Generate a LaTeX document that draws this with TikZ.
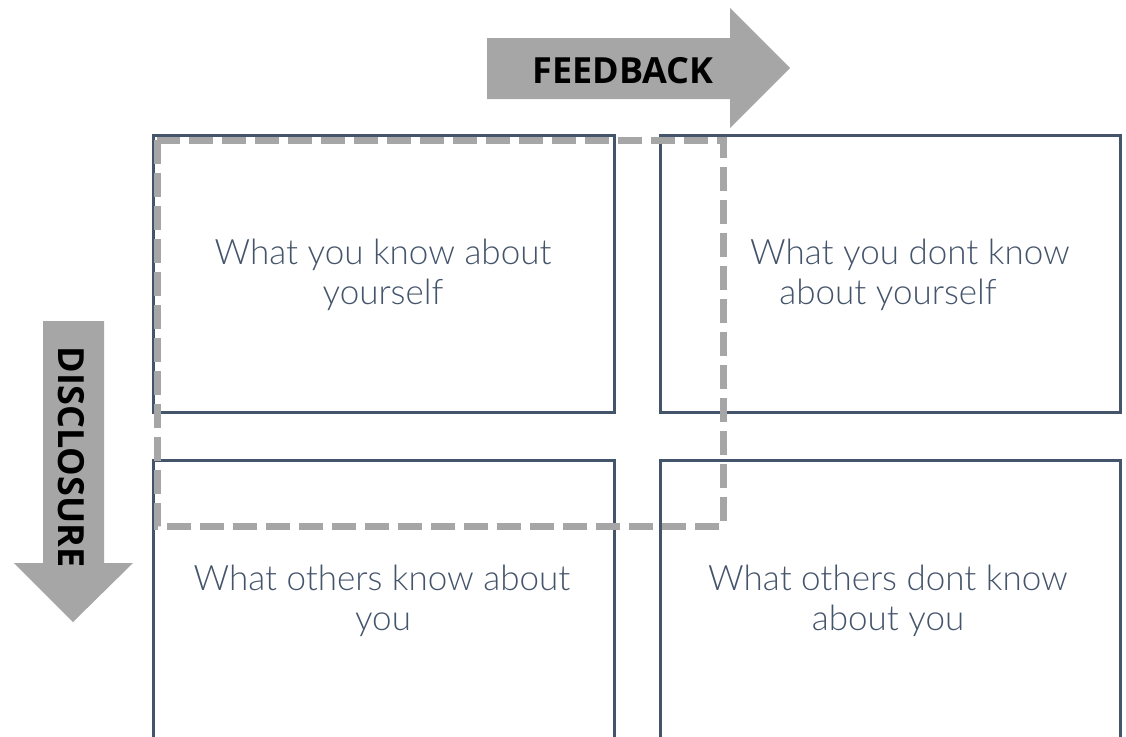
\documentclass[tikz,border=0pt]{standalone}
\usepackage{fontspec}
\newfontfamily\bodyfont{Lato Light}
\newfontfamily\headfont{Open Sans}
\definecolor{slate}{HTML}{44546A}
\definecolor{arrowgrey}{HTML}{A6A6A6}
\tikzset{
  quad/.style={draw=slate, line width=3pt},
  dashframe/.style={draw=arrowgrey, line width=7pt, dash pattern=on 24pt off 9pt},
  bigarrow/.style={fill=arrowgrey, draw=none},
  qtext/.style={text=slate, font=\bodyfont\fontsize{35}{40}\selectfont, inner sep=0pt, anchor=base},
  atext/.style={text=black, font=\headfont\bfseries\fontsize{36}{40}\selectfont, inner sep=0pt}
}
\begin{document}
\begin{tikzpicture}[x=1pt,y=-1pt]
\useasboundingbox (0,0) rectangle (1126,736);
% quadrant boxes
\draw[quad] (153,135) rectangle (614,412);
\draw[quad] (660,135) rectangle (1120,412);
\draw[quad] (153,460) rectangle (614,780);
\draw[quad] (660,460) rectangle (1120,780);
% texts
\node[qtext] (tl1) at (383,264) {What you know about};
\node[qtext] (tl2) at (383,304) {yourself};
\node[qtext] (tr1) at (910,264) {What you dont know};
\node[qtext] (tr2) at (888,304) {about yourself};
\node[qtext] (bl1) at (382,590) {What others know about};
\node[qtext] (bl2) at (383,630) {you};
\node[qtext] (br1) at (888,590) {What others dont know};
\node[qtext] (br2) at (888,630) {about you};
% dashed frame
\draw[dashframe] (157,140) rectangle (723,526);
% feedback arrow
\fill[bigarrow] (487,38) -- (730,38) -- (730,8) -- (790,68) -- (730,128) -- (730,99) -- (487,99) -- cycle;
\node[atext] (fb) at (623,71) {FEEDBACK};
% disclosure arrow
\fill[bigarrow] (43,321) -- (104,321) -- (104,563) -- (133,563) -- (73,622) -- (14,563) -- (43,563) -- cycle;
\node[atext, rotate=-90] (dc) at (71,457) {DISCLOSURE};
\end{tikzpicture}
\end{document}
